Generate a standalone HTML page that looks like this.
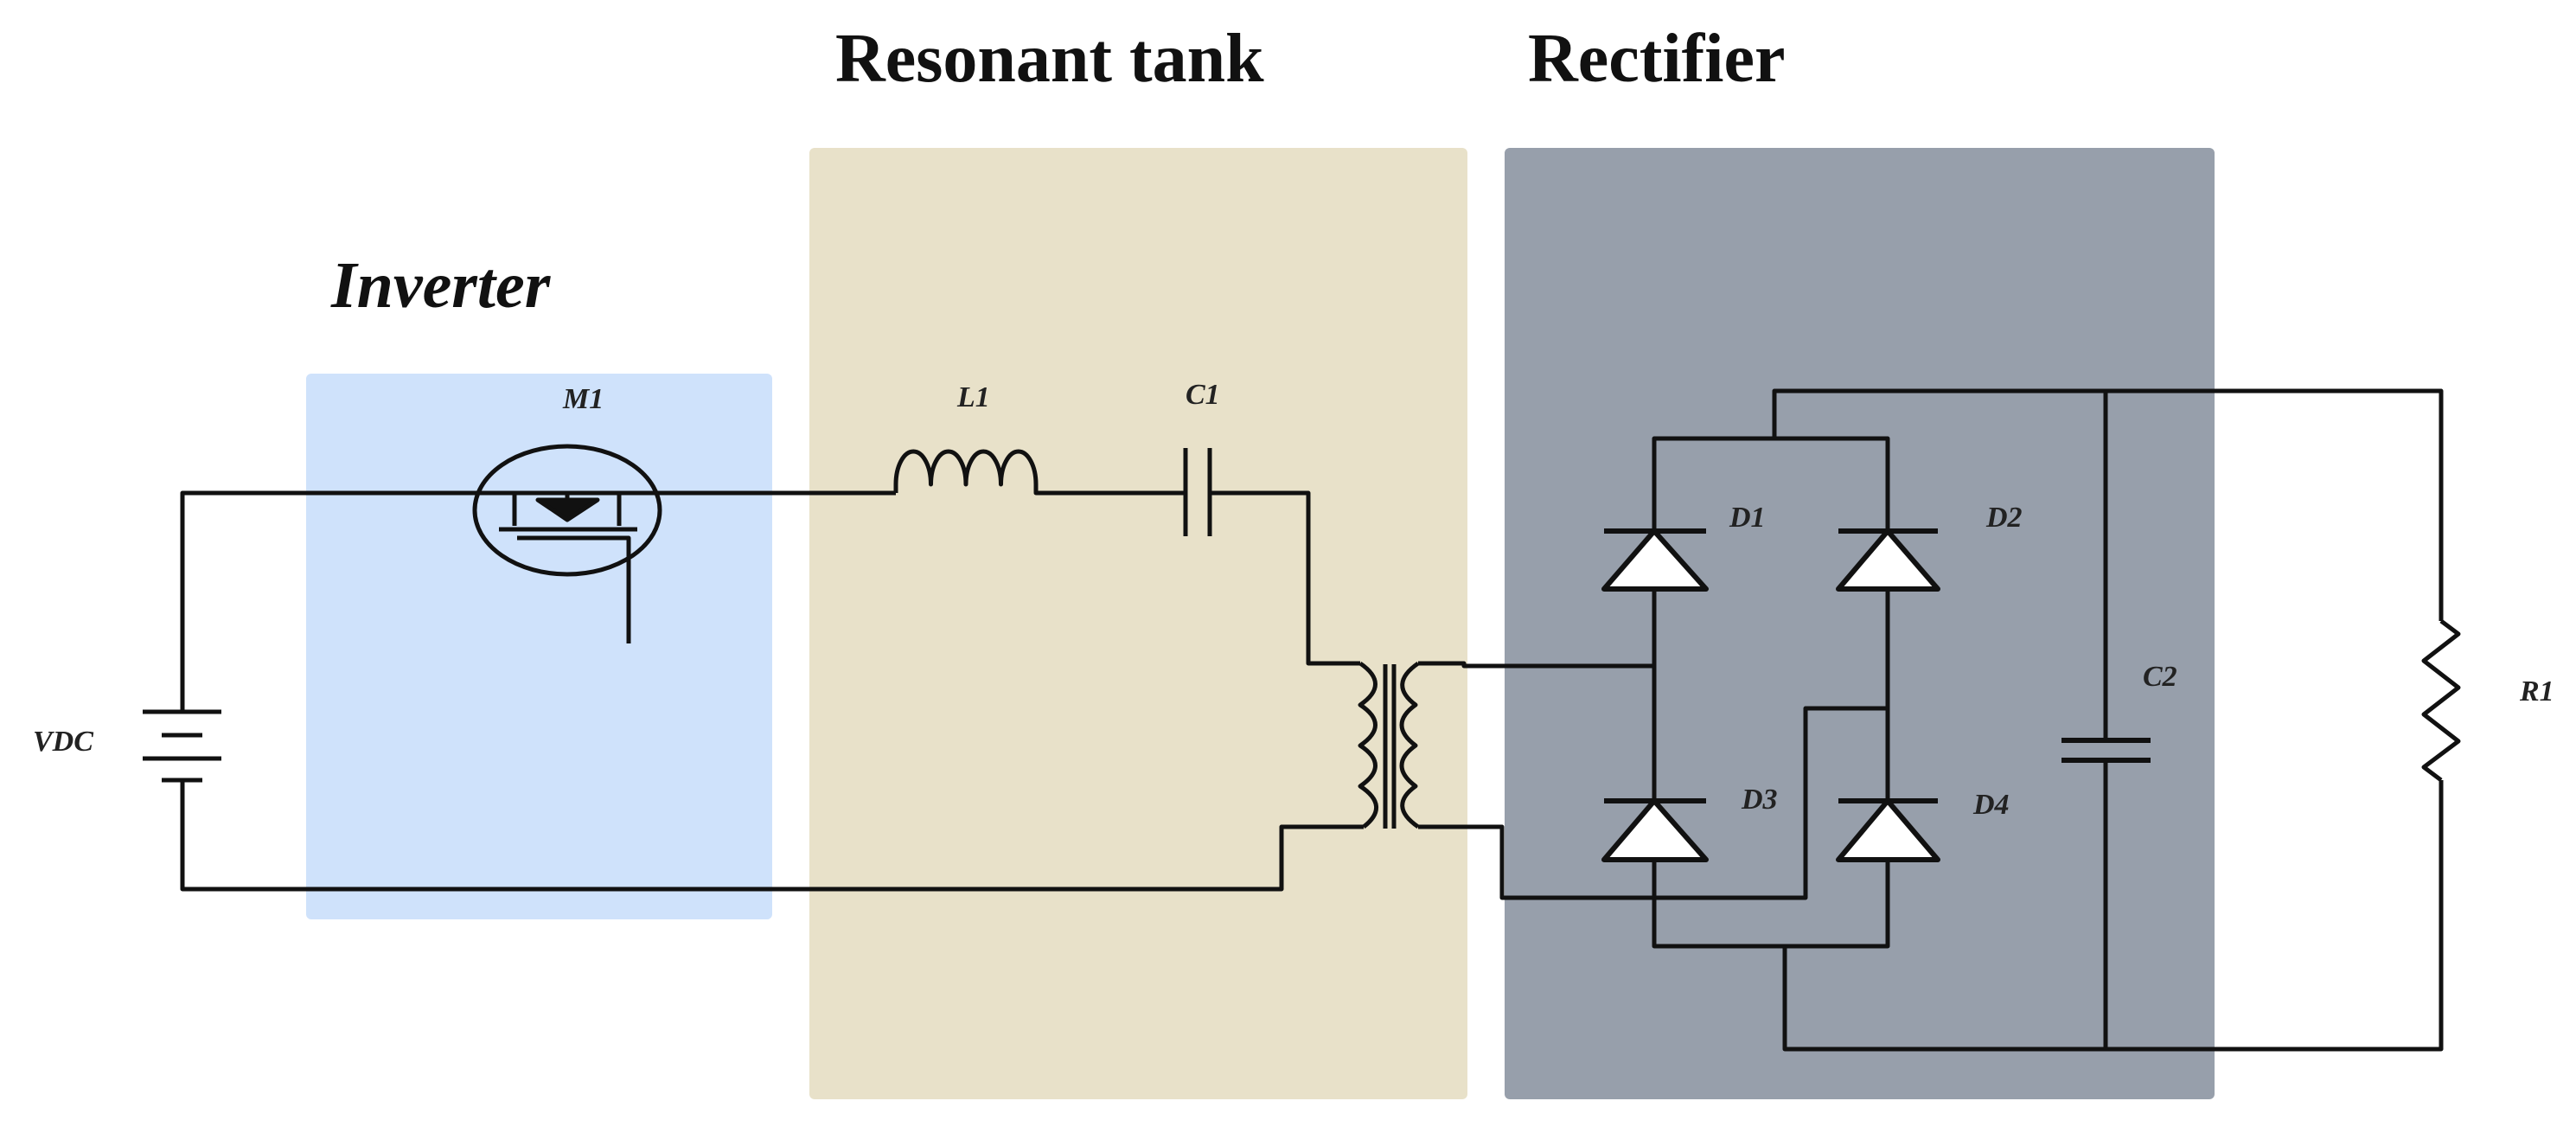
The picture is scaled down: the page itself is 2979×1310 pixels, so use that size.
<!DOCTYPE html>
<html><head><meta charset="utf-8"><style>
html,body{margin:0;padding:0;background:#fff;}
svg{display:block}
.t{font-family:"Liberation Serif",serif;font-weight:bold;fill:#111}
.l{font-family:"Liberation Serif",serif;font-style:italic;font-weight:bold;font-size:34px;fill:#222}
</style></head><body>
<svg width="2979" height="1310" viewBox="0 0 2979 1310" xmlns="http://www.w3.org/2000/svg">
<rect x="354" y="432" width="539" height="631" rx="6" fill="#cfe2fb"/>
<rect x="936" y="171" width="761" height="1100" rx="6" fill="#e8e1c9"/>
<rect x="1740" y="171" width="821" height="1100" rx="6" fill="#979fab"/>
<text class="t" x="966" y="94" font-size="80">Resonant tank</text>
<text class="t" x="1767" y="94" font-size="80">Rectifier</text>
<text class="t" x="383" y="355" font-size="76" font-style="italic">Inverter</text>
<text class="l" x="651" y="472" font-size="36">M1</text>
<text class="l" x="1107" y="470">L1</text>
<text class="l" x="1371" y="467">C1</text>
<text class="l" x="38" y="868" font-size="28">VDC</text>
<text class="l" x="2000" y="609">D1</text>
<text class="l" x="2297" y="609">D2</text>
<text class="l" x="2014" y="935">D3</text>
<text class="l" x="2282" y="941">D4</text>
<text class="l" x="2478" y="793">C2</text>
<text class="l" x="2914" y="810">R1</text>
<g fill="none" stroke="#111" stroke-width="5" stroke-linejoin="round">
<path d="M211,823 V570 H595 M716,570 H1036"/>
<path d="M211,902 V1028 H1482 V956 H1577"/>
<line x1="165" y1="823" x2="256" y2="823"/>
<line x1="187" y1="850" x2="234" y2="850"/>
<line x1="165" y1="877" x2="256" y2="877"/>
<line x1="187" y1="902" x2="234" y2="902"/>
<ellipse cx="656" cy="590" rx="107" ry="74"/>
<path d="M595,570 V608 M716,570 V608 M595,570 H716"/>
<line x1="577" y1="612" x2="737" y2="612"/>
<path d="M598,622 H727 V744"/>
<polygon points="622,578 691,578 656,601" fill="#111"/>
<line x1="656" y1="570" x2="656" y2="580"/>
<path d="M1036,570 V560 A20.25,38 0 0 1 1076.5,560 A20.25,38 0 0 1 1117,560 A20.25,38 0 0 1 1157.5,560 A20.25,38 0 0 1 1198,560 V570 H1371"/>
<line x1="1371" y1="518" x2="1371" y2="620"/>
<line x1="1399" y1="518" x2="1399" y2="620"/>
<path d="M1399,570 H1513 V767 H1573"/>
<path d="M1573,767 Q1608,791 1573,815 Q1608,838 1573,862 Q1608,885 1573,909 Q1608,932 1577,956"/>
<path d="M1640,767 Q1605,791 1637,815 Q1605,838 1637,862 Q1605,885 1637,909 Q1605,932 1640,956"/>
<line x1="1602" y1="768" x2="1602" y2="958" stroke-width="5"/>
<line x1="1612" y1="768" x2="1612" y2="958" stroke-width="5"/>
<path d="M1640,767 H1693 V770 H1913"/>
<path d="M1640,956 H1737 V1038 H2088 V819 H2183"/>
<path d="M2052,507 V452 H2823 V718"/>
<path d="M1913,614 V507 H2183 V614"/>
<path d="M1913,681 V926 M2183,681 V926"/>
<path d="M1913,994 V1094 H2183 V994"/>
<path d="M2064,1094 V1213 H2823 V902"/>
<path d="M2823,718 L2843,733 L2803,764 L2843,795 L2803,826 L2843,857 L2803,887 L2823,902"/>
<path d="M2435,452 V856 M2435,879 V1213"/>
<line x1="2384" y1="856" x2="2487" y2="856" stroke-width="6"/>
<line x1="2384" y1="879" x2="2487" y2="879" stroke-width="6"/>
<g fill="#fff" stroke-width="6">
<line x1="1855" y1="614" x2="1973" y2="614"/><polygon points="1913,614 1855,681 1973,681"/>
<line x1="2126" y1="614" x2="2241" y2="614"/><polygon points="2183,614 2126,681 2241,681"/>
<line x1="1855" y1="926" x2="1973" y2="926"/><polygon points="1913,926 1855,994 1973,994"/>
<line x1="2126" y1="926" x2="2241" y2="926"/><polygon points="2183,926 2126,994 2241,994"/>
</g>
</g>
</svg>
</body></html>
